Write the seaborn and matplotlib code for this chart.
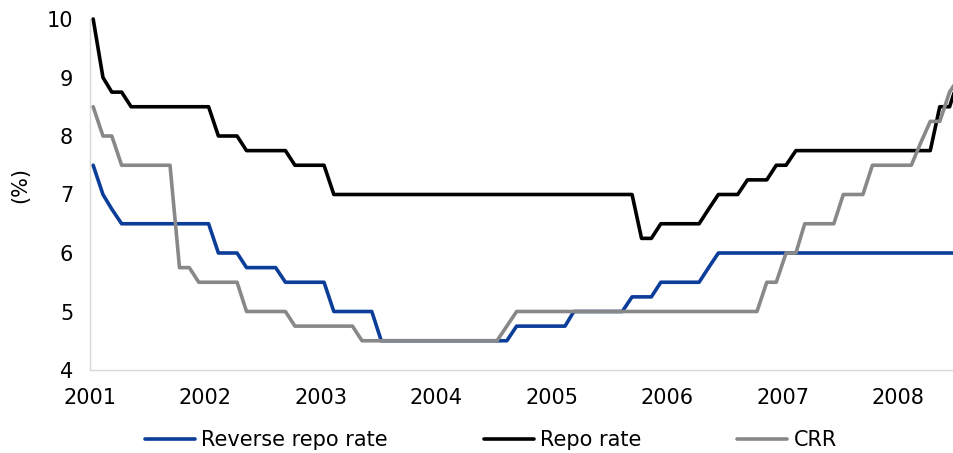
import pandas as pd
import numpy as np
import matplotlib
matplotlib.use('Agg')
import matplotlib.pyplot as plt
import matplotlib.dates as mdates
import seaborn as sns

# ==========================================
# DATOS (mensuales, ene-2001 a jul-2008)
# ==========================================
reverse_repo = [
    7.5, 7, 6.75, 6.5, 6.5, 6.5, 6.5, 6.5, 6.5, 6.5, 6.5, 6.5,            # 2001
    6.5, 6, 6, 6, 5.75, 5.75, 5.75, 5.75, 5.5, 5.5, 5.5, 5.5,             # 2002
    5.5, 5, 5, 5, 5, 5, 4.5, 4.5, 4.5, 4.5, 4.5, 4.5,                     # 2003
    4.5, 4.5, 4.5, 4.5, 4.5, 4.5, 4.5, 4.5, 4.75, 4.75, 4.75, 4.75,       # 2004
    4.75, 4.75, 5, 5, 5, 5, 5, 5, 5.25, 5.25, 5.25, 5.5,                  # 2005
    5.5, 5.5, 5.5, 5.5, 5.75, 6, 6, 6, 6, 6, 6, 6,                        # 2006
    6, 6, 6, 6, 6, 6, 6, 6, 6, 6, 6, 6,                                   # 2007
    6, 6, 6, 6, 6, 6, 6,                                                  # 2008
]
repo = [
    10, 9, 8.75, 8.75, 8.5, 8.5, 8.5, 8.5, 8.5, 8.5, 8.5, 8.5,
    8.5, 8, 8, 8, 7.75, 7.75, 7.75, 7.75, 7.75, 7.5, 7.5, 7.5,
    7.5, 7, 7, 7, 7, 7, 7, 7, 7, 7, 7, 7,
    7, 7, 7, 7, 7, 7, 7, 7, 7, 7, 7, 7,
    7, 7, 7, 7, 7, 7, 7, 7, 7, 6.25, 6.25, 6.5,
    6.5, 6.5, 6.5, 6.5, 6.75, 7, 7, 7, 7.25, 7.25, 7.25, 7.5,
    7.5, 7.75, 7.75, 7.75, 7.75, 7.75, 7.75, 7.75, 7.75, 7.75, 7.75, 7.75,
    7.75, 7.75, 7.75, 7.75, 8.5, 8.5, 9,
]
crr = [
    8.5, 8, 8, 7.5, 7.5, 7.5, 7.5, 7.5, 7.5, 5.75, 5.75, 5.5,
    5.5, 5.5, 5.5, 5.5, 5, 5, 5, 5, 5, 4.75, 4.75, 4.75,
    4.75, 4.75, 4.75, 4.75, 4.5, 4.5, 4.5, 4.5, 4.5, 4.5, 4.5, 4.5,
    4.5, 4.5, 4.5, 4.5, 4.5, 4.5, 4.5, 4.75, 5, 5, 5, 5,
    5, 5, 5, 5, 5, 5, 5, 5, 5, 5, 5, 5,
    5, 5, 5, 5, 5, 5, 5, 5, 5, 5, 5.5, 5.5,
    6, 6, 6.5, 6.5, 6.5, 6.5, 7, 7, 7, 7.5, 7.5, 7.5,
    7.5, 7.5, 7.875, 8.25, 8.25, 8.75, 9,
]

series = ['Reverse repo rate', 'Repo rate', 'CRR']
colores = ['#0b3d99', '#000000', '#888888']

fechas = pd.date_range('2001-01-01', periods=len(repo), freq='MS') + pd.Timedelta(days=10)

df = pd.DataFrame({'fecha': fechas,
                   'Reverse repo rate': reverse_repo,
                   'Repo rate': repo,
                   'CRR': crr})
df_long = df.melt(id_vars='fecha', var_name='serie', value_name='tasa')

# ==========================================
# GRAFICO
# ==========================================
sns.set_style('white')
plt.rcParams['font.family'] = ['DejaVu Sans']

fig = plt.figure(figsize=(9.54, 4.53), dpi=100)
ax = fig.add_axes([90 / 954, 83 / 453, 864 / 954, 351 / 453])

sns.lineplot(data=df_long, x='fecha', y='tasa', hue='serie', hue_order=series,
             palette=dict(zip(series, colores)), linewidth=2.6, ax=ax, legend=False)
for line in ax.lines:
    line.set_clip_on(False)

ax.set_xlim(pd.Timestamp('2001-01-01'), pd.Timestamp('2008-06-25'))
ax.set_ylim(4, 10)
ax.set_yticks(range(4, 11))
ax.xaxis.set_major_locator(mdates.YearLocator())
ax.xaxis.set_major_formatter(mdates.DateFormatter('%Y'))

sns.despine(ax=ax)
for lado in ['left', 'bottom']:
    ax.spines[lado].set_color('#d9d9d9')
    ax.spines[lado].set_linewidth(1)
ax.tick_params(axis='both', length=3.6, width=1, color='#d9d9d9', labelsize=15, labelcolor='black')
ax.tick_params(axis='x', pad=9)
ax.tick_params(axis='y', pad=8.5)

ax.set_xlabel('')
ax.set_ylabel('(%)', fontsize=15, color='black')
ax.yaxis.set_label_coords(-0.069, 0.527)

fig.legend(ax.lines, series, loc='center', bbox_to_anchor=(491 / 954, 13 / 453),
           ncol=3, frameon=False, fontsize=15, handlelength=2.4, labelcolor='black',
           handletextpad=0.3, columnspacing=4.6, borderaxespad=0)

plt.savefig('out.png', dpi=100)
